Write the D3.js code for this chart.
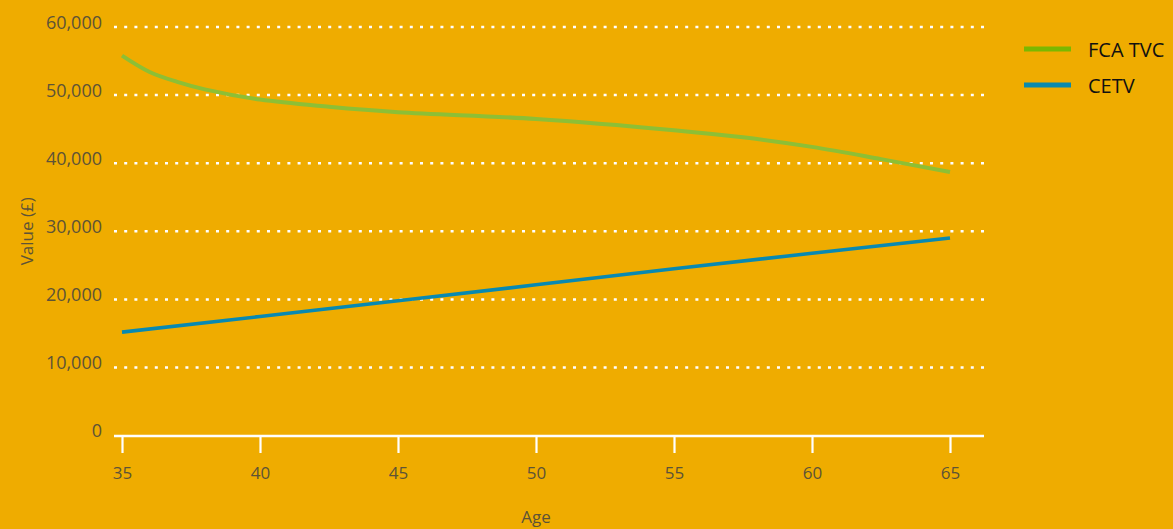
<!DOCTYPE html>
<html><head><meta charset="utf-8">
<script src="https://cdn.jsdelivr.net/npm/d3@7"></script>
<style>
html,body{margin:0;padding:0;background:#efac00;}
svg{display:block;font-family:"Open Sans","Noto Sans",sans-serif;}
</style></head><body>
<svg id="c" width="1173" height="529"></svg>
<script>
const ages = [35, 36, 37, 38, 40, 42.5, 45, 50, 55, 57.5, 60, 62.5, 65];
const fcaTvc = [55800, 53400, 51950, 50850, 49350, 48300, 47500, 46500, 44850, 43800, 42400, 40600, 38700];
const cetvAges = [35, 40, 45, 50, 55, 60, 65];
const cetv = [15200, 17500, 19800, 22150, 24500, 26780, 29030];
const xTicks = [35, 40, 45, 50, 55, 60, 65];
const yTicks = [0, 10000, 20000, 30000, 40000, 50000, 60000];
const seriesNames = ["FCA TVC", "CETV"];

const svg = d3.select("#c");
const x = d3.scaleLinear().domain([35, 65]).range([122, 950]);
const y = d3.scaleLinear().domain([0, 60000]).range([435.7, 27]);
const labelColor = "#5d5337";

// gridlines
svg.append("g").selectAll("line").data(yTicks.filter(d => d > 0)).join("line")
  .attr("x1", 114).attr("x2", 984)
  .attr("y1", d => y(d)).attr("y2", d => y(d))
  .attr("stroke", "#fff").attr("stroke-width", 2.5)
  .attr("stroke-dasharray", "3 7.2");

// y labels
svg.append("g").selectAll("text").data(yTicks).join("text")
  .attr("x", 102).attr("y", d => y(d) + 1.5)
  .attr("text-anchor", "end")
  .attr("font-size", 18).attr("fill", labelColor)
  .text(d => d3.format(",")(d));

// x axis
const xAxis = d3.axisBottom(x).tickValues(xTicks).tickSize(17).tickPadding(14).tickSizeOuter(0);
const gx = svg.append("g").attr("transform", "translate(0,436)").call(xAxis);
gx.select(".domain").remove();
gx.selectAll(".tick line").attr("stroke", "#fff").attr("stroke-width", 2.2);
gx.selectAll(".tick text").attr("font-size", 17).attr("fill", labelColor)
  .attr("font-family", "'Open Sans','Noto Sans',sans-serif");
svg.append("line").attr("x1", 114).attr("x2", 984).attr("y1", 436).attr("y2", 436)
  .attr("stroke", "#fff").attr("stroke-width", 2.5);

// axis titles
svg.append("text").attr("x", x(50)).attr("y", 523).attr("text-anchor", "middle")
  .attr("font-size", 17).attr("fill", labelColor).text("Age");
svg.append("text").attr("transform", `translate(33,${(27 + 435.7) / 2}) rotate(-90)`)
  .attr("text-anchor", "middle").attr("font-size", 17).attr("fill", labelColor).text("Value (£)");

// lines
const fcaLine = d3.line().x((d, i) => x(ages[i])).y(d => y(d)).curve(d3.curveCatmullRom);
svg.append("path").datum(fcaTvc).attr("d", fcaLine)
  .attr("fill", "none").attr("stroke", "#8dbf35").attr("stroke-width", 4);
const cetvLine = d3.line().x((d, i) => x(cetvAges[i])).y(d => y(d));
svg.append("path").datum(cetv).attr("d", cetvLine)
  .attr("fill", "none").attr("stroke", "#0889b1").attr("stroke-width", 3.6);

// legend
const legColors = ["#7ab800", "#0a8aad"];
const leg = svg.append("g").selectAll("g").data(seriesNames).join("g")
  .attr("transform", (d, i) => `translate(0,${49 + i * 36})`);
leg.append("line").attr("x1", 1024).attr("x2", 1071).attr("y1", 0).attr("y2", 0)
  .attr("stroke", (d, i) => legColors[i]).attr("stroke-width", 5);
leg.append("text").attr("x", 1088).attr("y", 7.5).attr("font-size", 20).attr("fill", "#111")
  .text(d => d);
</script>
</body></html>
